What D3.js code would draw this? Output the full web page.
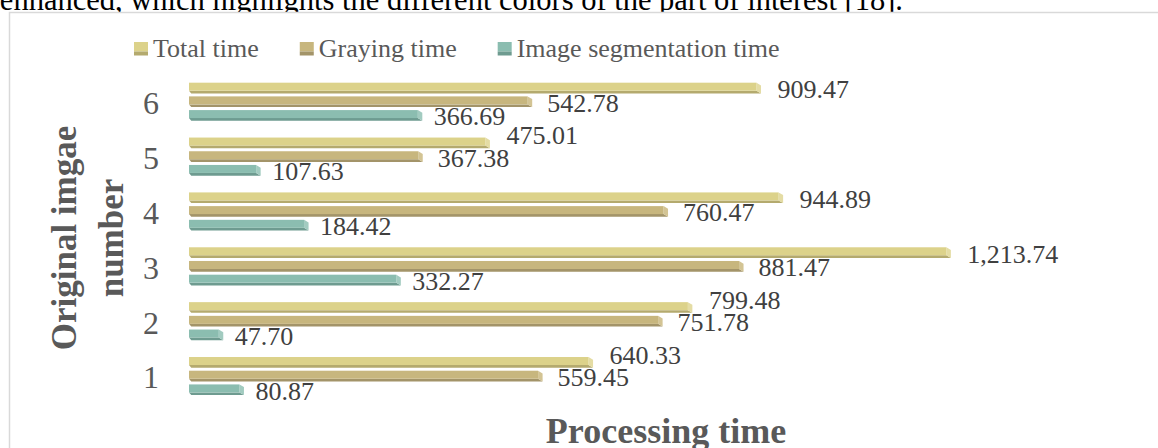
<!DOCTYPE html>
<html>
<head>
<meta charset="utf-8">
<script src="https://cdn.jsdelivr.net/npm/d3@7"></script>
<style>
  html, body { margin: 0; padding: 0; background: #fff; overflow: hidden; }
  svg { display: block; }
</style>
</head>
<body>
<svg id="chart" width="1158" height="448"></svg>
<script>
// ---- data ----
const categories = ["1", "2", "3", "4", "5", "6"];
const seriesNames = ["Total time", "Graying time", "Image segmentation time"];
const totalTime = [640.33, 799.48, 1213.74, 944.89, 475.01, 909.47];
const grayingTime = [559.45, 751.78, 881.47, 760.47, 367.38, 542.78];
const segmentationTime = [80.87, 47.70, 332.27, 184.42, 107.63, 366.69];
const xTitle = "Processing time";
const yTitleLines = ["Original imgae", "number"];
const aboveText = "enhanced, which highlights the different colors of the part of interest [18].";

const seriesValues = [totalTime, grayingTime, segmentationTime];

// ---- styles ----
const faceColors = ["#DCD28A", "#C7B67E", "#8BBDB0"];
const capColors  = ["#E4DCA4", "#D3C494", "#A2CBC0"];
const stripColors = ["#B4AA6E", "#A39469", "#6E9B90"];
const labelGaps = [21, 19.5, 16];
const serif = "'Liberation Serif', 'Times New Roman', serif";

const svg = d3.select("#chart");

// text above chart (cut off)
svg.append("text")
  .attr("x", 903).attr("y", 10)
  .attr("text-anchor", "end")
  .attr("font-family", serif).attr("font-size", 30.5)
  .attr("fill", "#000")
  .text(aboveText);

// chart border
svg.append("rect")
  .attr("x", 9.5).attr("y", 12.5)
  .attr("width", 1200).attr("height", 500)
  .attr("fill", "#fff").attr("stroke", "#D9D9D9").attr("stroke-width", 1.5);

// scales
const x = d3.scaleLinear().domain([0, 1400]).range([189, 1062.6]);
const y = d3.scaleBand().domain(categories.slice().reverse()).range([74.3, 403.5]).padding(0);
const pitch = 13.7;
const inner = d3.scaleBand().domain(seriesNames).range([0, pitch * 3]).padding(0);

const faceH = 8, dx = 4.5, dy = 2.7;

const barsG = svg.append("g");
const labelsG = svg.append("g");

categories.forEach((cat, ci) => {
  const groupTop = y(cat) + y.bandwidth() / 2 - 19.05;
  const labels = [];
  seriesNames.forEach((s, si) => {
    const v = seriesValues[si][ci];
    const x0 = x(0), xe = x(v);
    const top = groupTop + inner(s);
    const g = barsG.append("g");
    g.append("polygon")
      .attr("points", [[x0, top + faceH], [xe, top + faceH], [xe + dx, top + faceH + dy], [x0 + dx * 0.5, top + faceH + dy]].map(p => p.join(",")).join(" "))
      .attr("fill", stripColors[si]);
    g.append("polygon")
      .attr("points", [[xe, top], [xe + dx, top + dy], [xe + dx, top + faceH + dy], [xe, top + faceH]].map(p => p.join(",")).join(" "))
      .attr("fill", capColors[si]);
    g.append("rect")
      .attr("x", x0).attr("y", top)
      .attr("width", xe - x0).attr("height", faceH)
      .attr("fill", faceColors[si]);

    const t = labelsG.append("text")
      .attr("x", xe + labelGaps[si])
      .attr("font-family", serif).attr("font-size", 26)
      .attr("fill", "#404040")
      .text(d3.format(",.2f")(v));
    labels[si] = { t, x: xe + labelGaps[si], w: t.node().getComputedTextLength(), c: top + 6.5 };
  });
  for (let si = seriesNames.length - 2; si >= 0; si--) {
    const a = labels[si], b = labels[si + 1];
    const sep = 22.5;
    if (a.x < b.x + b.w + 1 && b.c - a.c < sep) a.c = b.c - sep;
  }
  labels.forEach(l => l.t.attr("y", l.c + 8.8));
});

// category labels
svg.append("g").selectAll("text").data(categories).join("text")
  .attr("x", 159)
  .attr("y", d => y(d) + y.bandwidth() / 2 + 1.5 + 10.8)
  .attr("text-anchor", "end")
  .attr("font-family", serif).attr("font-size", 32)
  .attr("fill", "#595959")
  .text(d => d);

// axis titles
svg.append("text")
  .attr("x", 666).attr("y", 443)
  .attr("text-anchor", "middle")
  .attr("font-family", serif).attr("font-size", 36).attr("font-weight", "bold")
  .attr("fill", "#595959")
  .text(xTitle);

const yt = svg.append("text")
  .attr("transform", "translate(0,238) rotate(-90)")
  .attr("text-anchor", "middle")
  .attr("font-family", serif).attr("font-size", 35).attr("font-weight", "bold")
  .attr("fill", "#595959");
yt.append("tspan").attr("x", 0).attr("y", 76).text(yTitleLines[0]);
yt.append("tspan").attr("x", 0).attr("y", 123).text(yTitleLines[1]);

// legend
const legend = svg.append("g");
let lx = 134;
seriesNames.forEach((s, si) => {
  legend.append("rect").attr("x", lx).attr("y", 42).attr("width", 14).attr("height", 9.5).attr("fill", faceColors[si]);
  legend.append("rect").attr("x", lx).attr("y", 51.5).attr("width", 14).attr("height", 4).attr("fill", stripColors[si]);
  const t = legend.append("text")
    .attr("x", lx + 19).attr("y", 56.5)
    .attr("font-family", serif).attr("font-size", 26)
    .attr("fill", "#595959")
    .text(s);
  lx = lx + 19 + t.node().getComputedTextLength() + 41;
});
</script>
</body>
</html>
